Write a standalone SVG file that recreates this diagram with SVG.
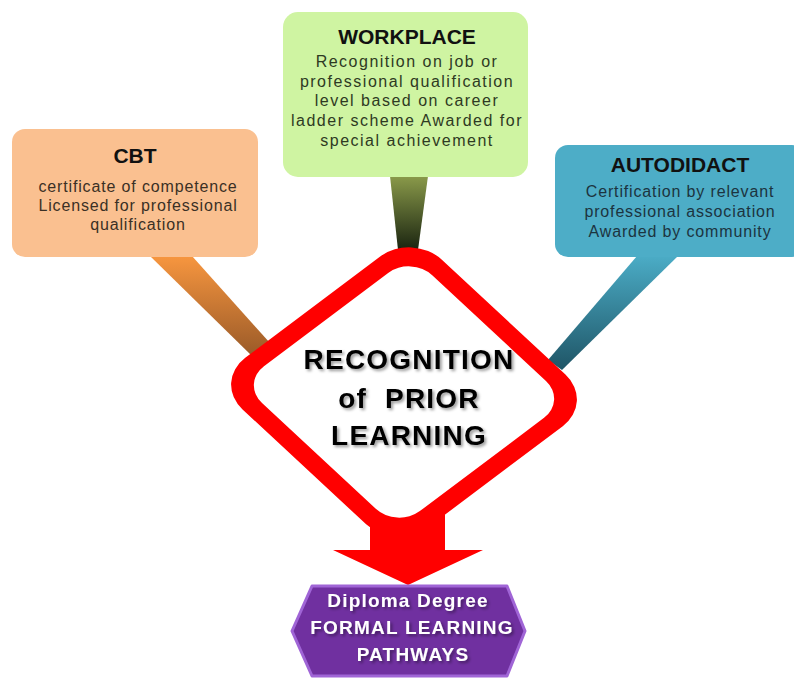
<svg xmlns="http://www.w3.org/2000/svg" width="794" height="679" viewBox="0 0 794 679">
<defs>
<style>
.title{font-family:"Liberation Sans",Arial,sans-serif;font-weight:bold;font-size:21px;fill:#111;text-anchor:middle}
.body{font-family:"Liberation Sans",Arial,sans-serif;font-size:16px;text-anchor:middle;letter-spacing:0.85px}
.rpl{font-family:"Liberation Sans",Arial,sans-serif;font-weight:bold;font-size:28px;fill:#000;text-anchor:middle;letter-spacing:1.2px}
.dip{font-family:"Liberation Sans",Arial,sans-serif;font-weight:bold;font-size:19px;fill:#fff;text-anchor:middle;letter-spacing:1.2px}
</style>
<linearGradient id="gCbt" x1="0" y1="0" x2="0" y2="1"><stop offset="0" stop-color="#f7963f"/><stop offset="1" stop-color="#9a5a28"/></linearGradient>
<linearGradient id="gWork" x1="0" y1="0" x2="0" y2="1"><stop offset="0" stop-color="#8a9a4a"/><stop offset="1" stop-color="#1a2410"/></linearGradient>
<linearGradient id="gAuto" x1="0" y1="0" x2="0" y2="1"><stop offset="0" stop-color="#4bacc6"/><stop offset="1" stop-color="#1f5566"/></linearGradient>
<filter id="tsh" x="-10%" y="-30%" width="120%" height="160%"><feGaussianBlur in="SourceAlpha" stdDeviation="1.5"/><feOffset dx="2" dy="2" result="b"/><feFlood flood-color="#000" flood-opacity="0.4"/><feComposite in2="b" operator="in"/><feMerge><feMergeNode/><feMergeNode in="SourceGraphic"/></feMerge></filter>
</defs>
<rect width="794" height="679" fill="#fff"/>

<g id="connectors">
<polygon points="150,256 192,256 270,343 252,356" fill="url(#gCbt)"/>
<polygon points="390,176 428,176 418,250 398,250" fill="url(#gWork)"/>
<polygon points="637,256 678,256 562,370 548,360" fill="url(#gAuto)"/>
<polygon points="370,490 445,490 445,550 483,550 408,585 333,550 370,550" fill="#ff0000"/>
</g>

<g id="cbt">
<rect x="12" y="129" width="246" height="128" rx="13" fill="#fac090"/>
<text class="title" x="135" y="163">CBT</text>
<text class="body" fill="#3a3025"><tspan x="138" y="192">certificate of competence</tspan><tspan x="138" y="211">Licensed for professional</tspan><tspan x="138" y="230">qualification</tspan></text>
</g>

<g id="workplace">
<rect x="283" y="12" width="245" height="165" rx="15" fill="#cff4a2"/>
<text class="title" x="407" y="44">WORKPLACE</text>
<text class="body" fill="#2e3a22" style="letter-spacing:1.5px"><tspan x="407" y="67">Recognition on job or</tspan><tspan x="407" y="87">professional qualification</tspan><tspan x="407" y="106">level based on career</tspan><tspan x="407" y="126">ladder scheme Awarded for</tspan><tspan x="407" y="146">special achievement</tspan></text>
</g>

<g id="autodidact">
<rect x="555" y="145" width="250" height="112" rx="13" fill="#4dadc7"/>
<text class="title" x="680" y="172">AUTODIDACT</text>
<text class="body" fill="#1c3440"><tspan x="680" y="197">Certification by relevant</tspan><tspan x="680" y="217">professional association</tspan><tspan x="680" y="237">Awarded by community</tspan></text>
</g>

<g id="rpl">
<g transform="translate(404,392) rotate(3) scale(1.04,0.87) rotate(45)">
<rect x="-130" y="-130" width="260" height="260" rx="42" fill="#ff0000"/>
<rect x="-111" y="-111" width="222" height="222" rx="30" fill="#fff"/>
</g>
<g filter="url(#tsh)">
<text class="rpl" x="409" y="369">RECOGNITION</text>
<text class="rpl" x="409" y="408" xml:space="preserve">of  PRIOR</text>
<text class="rpl" x="409" y="445">LEARNING</text>
</g>
</g>

<g id="diploma">
<polygon points="312,586 507,586 525,631 507,676 312,676 292,631" fill="#7030a0" stroke="#a065d6" stroke-width="3" stroke-linejoin="round"/>
<g filter="url(#tsh)">
<text class="dip" x="408" y="607">Diploma Degree</text>
<text class="dip" x="412" y="634">FORMAL LEARNING</text>
<text class="dip" x="413" y="661">PATHWAYS</text>
</g>
</g>
</svg>
